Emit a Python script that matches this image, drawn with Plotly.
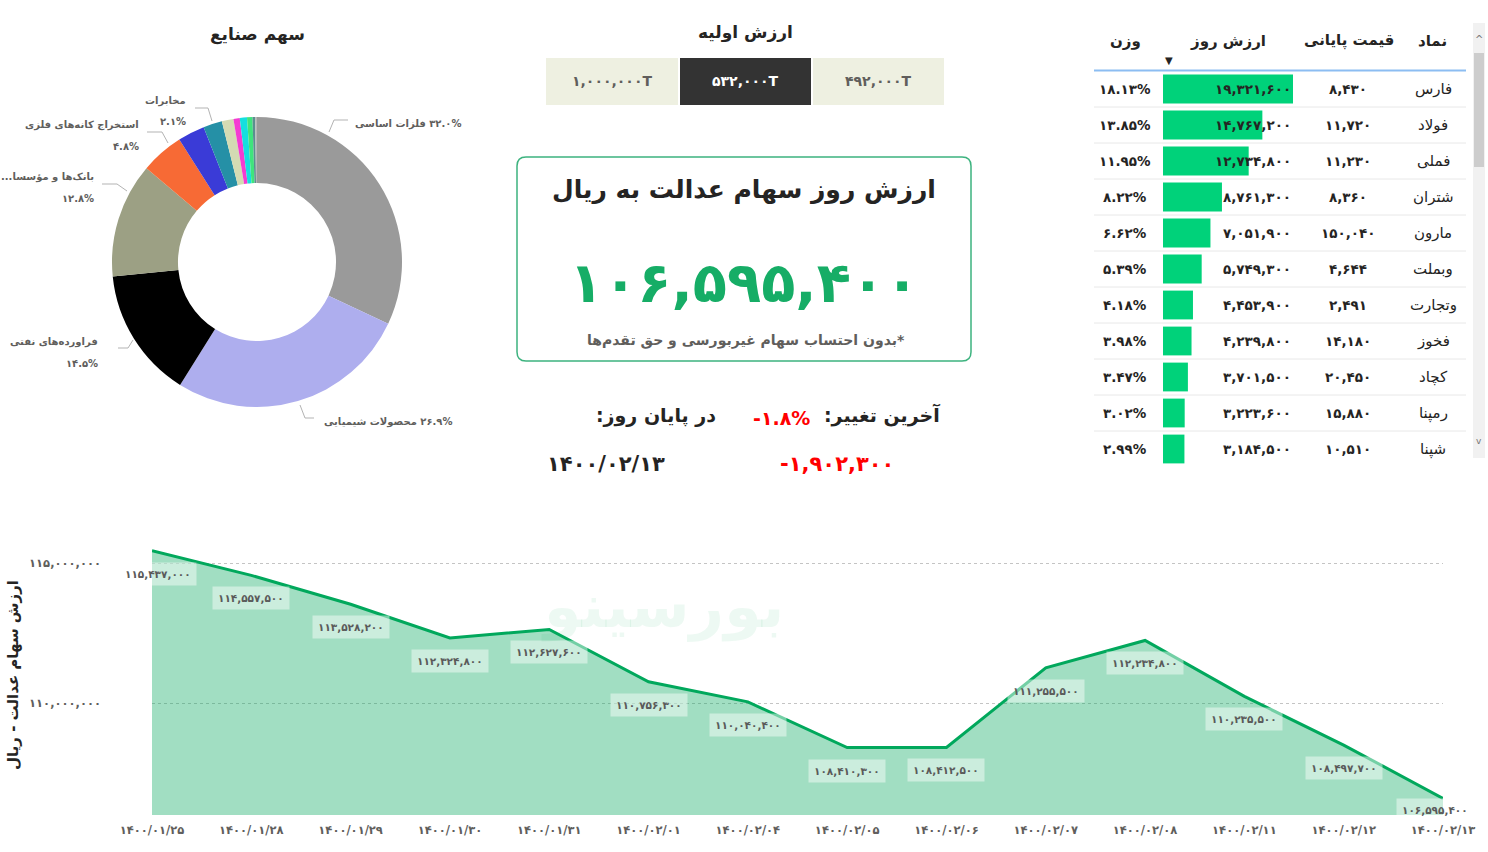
import plotly.graph_objects as go

W, H = 1488, 852
FONT = "DejaVu Sans"
RLE, PDF = "\u202b", "\u202c"
FA = str.maketrans("0123456789", "۰۱۲۳۴۵۶۷۸۹")


def rtl(s):
    return RLE + s + PDF


def fa(s):
    return str(s).translate(FA)


def X(p):
    return p / W


def Y(p):
    return 1 - p / H


# ---------------- data ----------------
industries = ["فلزات اساسی", "محصولات شیمیایی", "فراورده‌های نفتی", "بانک‌ها و مؤسسات اعتباری",
              "استخراج کانه‌های فلزی", "خودرو و ساخت قطعات", "مخابرات", "سیمان، آهک و گچ",
              "مواد و محصولات دارویی", "حمل و نقل", "عرضه برق، گاز و آب", "سایر", "چند رشته‌ای صنعتی"]
industry_share = [32.0, 26.9, 14.5, 12.8, 4.8, 3.0, 2.1, 1.3, 0.7, 0.8, 0.6, 0.3, 0.2]
industry_colors = ["#9a9a9a", "#aeaeee", "#000000", "#9ca084", "#f76a35", "#3a3bd7", "#2590a6",
                   "#d3dbb3", "#f43bd2", "#14dfdf", "#3fe47c", "#5b8e8f", "#b5b5b5"]
pie_label_names = ["فلزات اساسی", "محصولات شیمیایی", "فراورده‌های نفتی", "بانک‌ها و مؤسسا...",
                   "استخراج کانه‌های فلزی", "مخابرات"]
pie_label_index = [0, 1, 2, 3, 4, 6]

dates = ["1400/01/25", "1400/01/28", "1400/01/29", "1400/01/30", "1400/01/31", "1400/02/01",
         "1400/02/04", "1400/02/05", "1400/02/06", "1400/02/07", "1400/02/08", "1400/02/11",
         "1400/02/12", "1400/02/13"]
portfolio_value = [115437000, 114557500, 113528200, 112324800, 112627600, 110756300, 110040400,
                   108410300, 108412500, 111255500, 112234800, 110235500, 108497700, 106595400]
y_ticks = [110000000, 115000000]

symbols = ["فارس", "فولاد", "فملی", "شتران", "مارون", "وبملت", "وتجارت", "فخوز", "کچاد", "رمپنا", "شپنا"]
close_price = [8430, 11720, 11230, 8360, 150040, 4644, 2491, 14180, 20450, 15880, 10510]
day_value = [19321600, 14767200, 12734800, 8761300, 7051900, 5749300, 4453900, 4239800,
             3701500, 3223600, 3184500]
weight_pct = [18.13, 13.85, 11.95, 8.22, 6.62, 5.39, 4.18, 3.98, 3.47, 3.02, 2.99]
table_headers = ["نماد", "قیمت پایانی", "ارزش روز", "وزن"]

initial_values = [1000000, 532000, 492000]
selected_initial = 532000
current_value = 106595400
change_pct = -1.8
change_abs = -1902300
as_of = "1400/02/13"

# ---------------- figure ----------------
fig = go.Figure()

fig.add_trace(go.Pie(
    labels=industries, values=industry_share, sort=False, direction="clockwise", rotation=0,
    hole=0.545, marker=dict(colors=industry_colors, line=dict(width=0)),
    textinfo="none", hoverinfo="label+percent", automargin=False,
    domain=dict(x=[X(112), X(402)], y=[Y(407), Y(117)]),
))

fig.add_trace(go.Scatter(
    x=[fa(d) for d in dates], y=portfolio_value, mode="lines", fill="tozeroy",
    line=dict(color="#01a85c", width=3), fillcolor="rgba(0,166,90,0.37)",
    xaxis="x", yaxis="y", hoverinfo="x+y",
))

fig.add_trace(go.Bar(
    x=day_value, y=list(range(len(day_value))), orientation="h", width=0.8,
    marker=dict(color="#00d27a", line=dict(width=0)), xaxis="x2", yaxis="y2", hoverinfo="x",
))

annotations = []
shapes = []


def ann(text, x, y, size, color="#252423", bold=False, xanchor="center", yanchor="middle",
        xref="paper", yref="paper", **kw):
    a = dict(text=text, x=x, y=y, xref=xref, yref=yref, showarrow=False, xanchor=xanchor,
             yanchor=yanchor,
             font=dict(family=FONT, size=size, color=color, weight="bold" if bold else "normal"))
    a.update(kw)
    annotations.append(a)


def line_path(pts, color="#b3b3b3", width=1):
    d = "M " + " L ".join(f"{X(a)},{Y(b)}" for a, b in pts)
    shapes.append(dict(type="path", path=d, xref="paper", yref="paper",
                       line=dict(color=color, width=width)))


# ---- pie title & labels ----
ann("سهم صنایع", X(257), Y(34), 17, bold=True)
pct = {i: fa(f"{industry_share[i]:.1f}") + "%" for i in pie_label_index}
LBL = 10
ann(rtl(pct[0] + " " + pie_label_names[0]), X(353), Y(124), LBL, "#605e5c", True, xanchor="left")
line_path([(329, 132), (334, 120), (348, 120)])
ann(rtl(pct[1] + " " + pie_label_names[1]), X(322), Y(422), LBL, "#605e5c", True, xanchor="left")
line_path([(300, 405), (305, 418), (314, 418)])
left_specs = [(2, 100, 342, [(118, 348), (128, 348), (133, 340)]),
              (3, 96, 177, [(102, 184), (117, 184), (127, 191)]),
              (4, 141, 125, [(147, 132), (162, 132), (168, 143)]),
              (6, 188, 101, [(195, 108), (208, 108), (212, 121)])]
for k, xr, yt, pts in left_specs:
    j = pie_label_index.index(k)
    ann(rtl(pie_label_names[j]), X(xr), Y(yt), LBL, "#605e5c", True, xanchor="right")
    ann(pct[k], X(xr), Y(yt + 21), LBL, "#605e5c", True, xanchor="right")
    line_path(pts)

# ---- initial value buttons ----
ann("ارزش اولیه", X(745), Y(33), 17, bold=True)
btn_x = [(546, 678), (680, 811), (813, 944)]
for (x0, x1), v in zip(btn_x, initial_values):
    sel = v == selected_initial
    shapes.append(dict(type="rect", xref="paper", yref="paper", x0=X(x0), x1=X(x1), y0=Y(105), y1=Y(58),
                       fillcolor="#333333" if sel else "#eef0e1", line=dict(width=0), layer="below"))
    ann(fa(f"{v:,}") + "T", X((x0 + x1) / 2), Y(81), 14, "#ffffff" if sel else "#605e5c", True)

# ---- card ----
r = 9
x0, x1, y0, y1 = 517, 971, 157, 361
card = (f"M {X(x0 + r)},{Y(y0)} L {X(x1 - r)},{Y(y0)} Q {X(x1)},{Y(y0)} {X(x1)},{Y(y0 + r)} "
        f"L {X(x1)},{Y(y1 - r)} Q {X(x1)},{Y(y1)} {X(x1 - r)},{Y(y1)} "
        f"L {X(x0 + r)},{Y(y1)} Q {X(x0)},{Y(y1)} {X(x0)},{Y(y1 - r)} "
        f"L {X(x0)},{Y(y0 + r)} Q {X(x0)},{Y(y0)} {X(x0 + r)},{Y(y0)} Z")
shapes.append(dict(type="path", path=card, xref="paper", yref="paper",
                   line=dict(color="#3db37f", width=1.5), fillcolor="rgba(0,0,0,0)"))
ann("ارزش روز سهام عدالت به ریال", X(744), Y(190), 25, "#252423", True)
ann(fa(f"{current_value:,}"), X(744), Y(283), 56, "#16ad66", True)
ann(rtl("*بدون احتساب سهام غیربورسی و حق تقدم‌ها"), X(746), Y(340), 14, "#605e5c", True)

# ---- last change ----
ann(rtl("آخرین تغییر:"), X(942), Y(415), 19, "#252423", True, xanchor="right")
ann(("-" if change_pct < 0 else "") + fa(f"{abs(change_pct):.1f}") + "%", X(781), Y(418), 19, "#ff0000", True)
ann(rtl("در پایان روز:"), X(718), Y(415), 19, "#252423", True, xanchor="right")
ann(fa(as_of), X(606), Y(464), 21, "#252423", True)
ann(("-" if change_abs < 0 else "") + fa(f"{abs(change_abs):,}"), X(837), Y(464), 21, "#ff0000", True)

# ---- table ----
hdr_x = [1432, 1349, 1228, 1125]
for t, xc in zip(table_headers, hdr_x):
    ann(t, X(xc), Y(41), 15, "#252423", True)
ann("▼", X(1169), Y(60), 10, "#252423")
shapes.append(dict(type="line", xref="paper", yref="paper", x0=X(1094), x1=X(1466), y0=Y(70.5), y1=Y(70.5),
                   line=dict(color="#8cbdf2", width=2)))
for i in range(len(symbols)):
    ann(symbols[i], X(1433), i, 15, "#252423", False, yref="y2")
    ann(fa(f"{close_price[i]:,}"), X(1348), i, 13.5, "#252423", True, yref="y2")
    ann(fa(f"{day_value[i]:,}"), X(1293), i, 13.5, "#252423", True, xanchor="right", yref="y2")
    ann(fa(f"{weight_pct[i]:.2f}") + "%", X(1125), i, 13.5, "#252423", True, yref="y2")
    if i > 0:
        shapes.append(dict(type="line", xref="paper", yref="y2", x0=X(1094), x1=X(1466), y0=i - 0.5, y1=i - 0.5,
                           line=dict(color="#e8e8e8", width=1)))
shapes.append(dict(type="rect", xref="paper", yref="paper", x0=X(1473), x1=X(1485), y0=Y(458), y1=Y(23),
                   fillcolor="#f1f1f1", line=dict(width=0), layer="below"))
shapes.append(dict(type="rect", xref="paper", yref="paper", x0=X(1474), x1=X(1484), y0=Y(167), y1=Y(53),
                   fillcolor="#cdcdcd", line=dict(width=0), layer="below"))
ann("^", X(1479), Y(39), 10, "#777777")
ann("v", X(1479), Y(441), 9, "#777777")

# ---- area chart labels ----
for i, (d, v) in enumerate(zip(dates, portfolio_value)):
    xs, ys = 0, -23
    if i == 0:
        xs = 6
    if i == len(dates) - 1:
        xs, ys = -8, -12
    ann(fa(f"{v:,}"), fa(d), v, 10.5, "#5a5a5a", True, xref="x", yref="y", xshift=xs, yshift=ys,
        bgcolor="rgba(255,255,255,0.45)", borderpad=5)
ann("ارزش سهام عدالت - ریال", X(13), Y(675), 15, "#252423", True, textangle=-90)
ann("بورسینو", X(662), Y(606), 60, "rgba(0,166,90,0.07)", True)

fig.update_layout(
    width=W, height=H, margin=dict(l=0, r=0, t=0, b=0, pad=0, autoexpand=False),
    paper_bgcolor="white", plot_bgcolor="rgba(0,0,0,0)",
    showlegend=False, font=dict(family=FONT),
    xaxis=dict(domain=[X(152), X(1443)], type="category", range=[0, len(dates) - 1], showgrid=False,
               showline=False, zeroline=False, ticks="", ticklabelstandoff=6, automargin=False,
               tickfont=dict(family=FONT, size=11.5, color="#605e5c", weight="bold"), anchor="y"),
    yaxis=dict(domain=[Y(815), Y(535)], range=[106000000, 116000000], tickvals=y_ticks,
               ticktext=[fa(f"{v:,}") for v in y_ticks], showgrid=True, gridcolor="#c4c4c4", griddash="dot",
               gridwidth=1, zeroline=False, showline=False, ticklabelstandoff=50, automargin=False,
               tickfont=dict(family=FONT, size=11.5, color="#605e5c", weight="bold"), anchor="x"),
    xaxis2=dict(domain=[X(1163), X(1293)], range=[0, max(day_value)], visible=False, anchor="y2",
                automargin=False),
    yaxis2=dict(domain=[Y(467), Y(71)], range=[len(symbols) - 0.5, -0.5], visible=False, anchor="x2",
                automargin=False),
    annotations=annotations, shapes=shapes,
)

fig.write_html("out.html")
